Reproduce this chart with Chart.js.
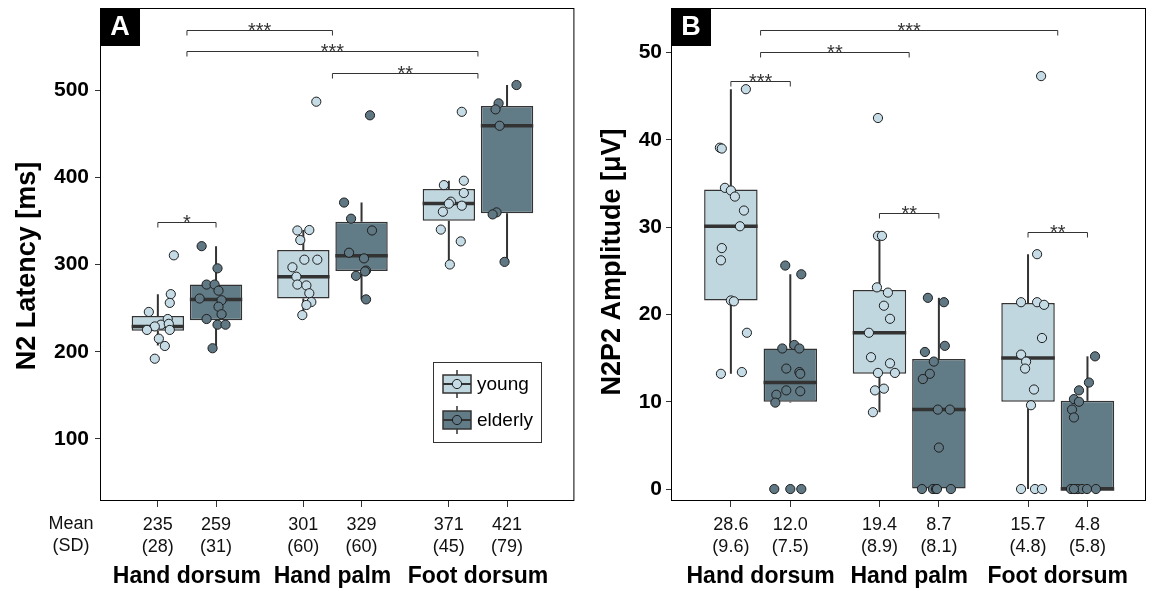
<!DOCTYPE html>
<html><head><meta charset="utf-8">
<script src="https://cdn.jsdelivr.net/npm/chart.js@4.4.1/dist/chart.umd.min.js"></script>
<style>
html,body{margin:0;padding:0;background:#fff;width:1152px;height:591px;overflow:hidden}
#a{position:absolute;left:0;top:0;width:580px;height:591px}
#b{position:absolute;left:580px;top:0;width:572px;height:591px}
</style></head><body>
<div id="a"><canvas id="ca"></canvas></div>
<div id="b"><canvas id="cb"></canvas></div>
<script>
// ---------- shared categories ----------
const groups = ['Hand dorsum', 'Hand palm', 'Foot dorsum'];
const seriesNames = ['young', 'elderly'];
// box order: HD young, HD elderly, HP young, HP elderly, FD young, FD elderly

// ---------- Panel A : N2 latency [ms] ----------
const latTicks = [100, 200, 300, 400, 500];
const latMean = [235, 259, 301, 329, 371, 421];
const latSD = [28, 31, 60, 60, 45, 79];
const latQ1 = [224, 236, 261, 292.5, 350, 358.6];
const latMedian = [229, 260, 286, 310, 370, 459];
const latQ3 = [241, 277, 316.6, 349, 386.5, 481.7];
const latWhiskerLow = [207, 204, 242, 260, 300, 303];
const latWhiskerHigh = [266, 321, 339.5, 371, 396, 505.7];
const latPoints = [
  [310.5, 266, 256, 245.6, 237.5, 231, 229, 232, 225, 225, 215, 206.6, 192],
  [321, 295.6, 277, 277, 270, 261, 259, 251.6, 243, 237.5, 231, 231, 204],
  [486.6, 339, 339.5, 328, 305.5, 305.5, 296.8, 286, 277, 276, 267, 257, 253.6, 242],
  [471, 371, 352.5, 339, 313.5, 307, 293, 292, 287, 260],
  [475, 391, 396, 382, 372, 369.7, 367.4, 360.5, 340, 326.5, 300],
  [505.7, 484.7, 477.8, 459, 359.7, 357.4, 303]
];
const latJitter = [
  [0.110, 0.089, 0.082, -0.062, 0.068, 0.021, -0.021, 0.075, -0.075, 0.082, 0.007, 0.048, -0.021],
  [-0.099, 0.010, -0.065, -0.010, 0.017, -0.113, 0.038, 0.017, 0.038, -0.065, 0.010, 0.065, -0.024],
  [0.089, -0.041, 0.041, -0.021, 0.007, 0.096, -0.075, -0.048, -0.041, 0.021, 0.041, 0.055, 0.021, -0.007],
  [0.058, -0.120, -0.072, 0.072, -0.086, 0.017, 0.031, 0.024, -0.038, 0.031],
  [0.089, -0.034, 0.103, 0.103, 0.014, 0, 0.089, -0.041, -0.055, 0.082, 0.007],
  [0.065, -0.058, -0.079, -0.051, -0.072, -0.099, -0.017]
];
const latBrackets = [
  {from: 1, to: 2, y: 568.8, label: '***'},
  {from: 1, to: 3, y: 544.7, label: '***'},
  {from: 2, to: 3, y: 519.5, label: '**'},
  {from: 0.8, to: 1.2, y: 348.7, label: '*'}
];

// ---------- Panel B : N2P2 amplitude [µV] ----------
const ampTicks = [0, 10, 20, 30, 40, 50];
const ampMean = [28.6, 12.0, 19.4, 8.7, 15.7, 4.8];
const ampSD = [9.6, 7.5, 8.9, 8.1, 4.8, 5.8];
const ampQ1 = [21.6, 10.0, 13.2, 0, 10.0, 0];
const ampMedian = [30.1, 12.2, 17.9, 9.1, 15.0, 0];
const ampQ3 = [34.3, 16.1, 22.8, 14.9, 21.3, 10.1];
const ampWhiskerLow = [13.2, 9.9, 8.8, 0, 0, 0];
const ampWhiskerHigh = [45.8, 24.6, 29.0, 21.9, 26.9, 15.2];
const ampPoints = [
  [45.8, 39.1, 39.0, 34.5, 34.2, 33.5, 31.9, 30.1, 27.6, 26.2, 21.6, 21.5, 17.9, 13.2, 13.4],
  [25.6, 24.6, 16.1, 16.5, 16.1, 13.8, 13.4, 13.2, 11.3, 11.2, 10.8, 9.9, 0, 0, 0],
  [42.5, 29.0, 29.0, 23.1, 22.5, 21.0, 19.5, 17.9, 15.1, 14.4, 13.3, 13.3, 11.3, 11.5, 8.8],
  [21.9, 21.4, 16.4, 15.7, 14.6, 13.2, 12.6, 9.1, 9.1, 4.75, 0, 0, 0, 0, 0],
  [47.3, 26.9, 21.4, 21.4, 21.1, 17.3, 15.4, 14.6, 13.8, 11.4, 9.6, 0, 0, 0],
  [15.2, 12.2, 11.3, 10.3, 10.0, 9.1, 8.2, 0, 0, 0, 0, 0, 0, 0]
];
const ampJitter = [
  [0.101, -0.074, -0.061, -0.040, 0, 0.027, 0.088, 0.061, -0.061, -0.067, 0, 0.020, 0.108, -0.067, 0.074],
  [-0.034, 0.074, -0.054, 0.027, 0.061, -0.027, 0.061, 0.067, -0.027, 0.067, -0.094, -0.101, -0.108, 0, 0.074],
  [-0.010, -0.010, 0.017, -0.017, 0.057, 0.030, 0.071, -0.071, -0.057, 0.071, -0.010, 0.104, -0.030, 0.030, -0.044],
  [-0.074, 0.034, 0.040, -0.094, -0.034, -0.061, -0.108, -0.007, 0.074, 0, -0.114, -0.040, -0.020, -0.013, 0.081],
  [0.088, 0.061, -0.047, 0.061, 0.108, 0.094, -0.047, -0.013, -0.020, 0.040, 0.020, -0.047, 0.047, 0.094],
  [0.051, 0.010, -0.057, -0.091, -0.057, -0.104, -0.091, -0.111, -0.084, -0.064, -0.037, -0.003, 0.057, -0.091]
];
const ampBrackets = [
  {from: 1, to: 3, y: 52.6, label: '***'},
  {from: 1, to: 2, y: 50.1, label: '**'},
  {from: 0.8, to: 1.2, y: 46.7, label: '***'},
  {from: 1.8, to: 2.2, y: 31.6, label: '**'},
  {from: 2.8, to: 3.2, y: 29.4, label: '**'}
];

// ---------- styles ----------
const FONT = "'Liberation Sans', Arial, Helvetica, sans-serif";
const boxFill = ['#c1d7e0', '#627c87'];
const pointFill = ['#c5dce6', '#5f7883'];
const ink = '#333333';

function buildChart(canvasId, P) {
  const dodge = 0.2;
  const pos = [];
  groups.forEach((g, i) => { pos.push(i + 1 - dodge, i + 1 + dodge); });
  const idx = s => [0, 1, 2].map(g => g * 2 + s);

  const boxDataset = s => ({
    type: 'bar', label: seriesNames[s] + ' box',
    data: idx(s).map(k => ({x: pos[k], y: [P.q1[k], P.q3[k]]})),
    backgroundColor: boxFill[s], borderColor: ink, borderWidth: 1.5,
    borderSkipped: false, grouped: false, barPercentage: 0.9, categoryPercentage: 1, order: 3
  });
  const pointDataset = s => {
    const out = [];
    idx(s).forEach(k => P.points[k].forEach((v, j) => out.push({x: pos[k] + P.jitter[k][j], y: v})));
    return {
      type: 'scatter', label: seriesNames[s], data: out,
      backgroundColor: pointFill[s], borderColor: '#1e1e1e', borderWidth: 1,
      pointRadius: 4.6, pointHoverRadius: 4.6, order: 1
    };
  };

  const boxPlugin = {
    id: 'boxextras',
    beforeDatasetsDraw(chart) {
      const ctx = chart.ctx, xs = chart.scales.x, ys = chart.scales.y;
      ctx.save();
      ctx.strokeStyle = ink; ctx.lineWidth = 2;
      pos.forEach((p, k) => {
        const x = xs.getPixelForValue(p);
        ctx.beginPath();
        ctx.moveTo(x, ys.getPixelForValue(P.wl[k])); ctx.lineTo(x, ys.getPixelForValue(P.q1[k]));
        ctx.moveTo(x, ys.getPixelForValue(P.q3[k])); ctx.lineTo(x, ys.getPixelForValue(P.wh[k]));
        ctx.stroke();
      });
      ctx.restore();
    },
    afterDatasetDraw(chart, args) {
      if (args.meta.type !== 'bar') return;
      const s = args.index; // 0 young, 1 elderly
      const ctx = chart.ctx, ys = chart.scales.y;
      ctx.save();
      ctx.strokeStyle = ink; ctx.lineWidth = 3.5;
      args.meta.data.forEach((el, j) => {
        const k = j * 2 + s;
        const y = ys.getPixelForValue(P.median[k]);
        ctx.beginPath();
        ctx.moveTo(el.x - el.width / 2, y); ctx.lineTo(el.x + el.width / 2, y);
        ctx.stroke();
      });
      ctx.restore();
    },
    afterDraw(chart) {
      const ctx = chart.ctx, xs = chart.scales.x, ys = chart.scales.y, a = chart.chartArea;
      ctx.save();
      // frame
      ctx.strokeStyle = '#000'; ctx.lineWidth = 1;
      ctx.strokeRect(a.left + 0.5, a.top + 0.5, a.right - a.left - 1, a.bottom - a.top - 1);
      // panel letter
      ctx.fillStyle = '#000';
      ctx.fillRect(a.left, a.top, 40, 38);
      ctx.fillStyle = '#fff'; ctx.font = 'bold 27px ' + FONT;
      ctx.textAlign = 'center'; ctx.textBaseline = 'middle';
      ctx.fillText(P.letter, a.left + 20, a.top + 20);
      // significance brackets
      ctx.strokeStyle = ink; ctx.lineWidth = 1; ctx.fillStyle = ink;
      ctx.font = '20px ' + FONT; ctx.textBaseline = 'alphabetic';
      P.brackets.forEach(b => {
        const x1 = xs.getPixelForValue(b.from), x2 = xs.getPixelForValue(b.to);
        const y = Math.round(ys.getPixelForValue(b.y)) + 0.5;
        ctx.beginPath();
        ctx.moveTo(x1, y + 5); ctx.lineTo(x1, y); ctx.lineTo(x2, y); ctx.lineTo(x2, y + 5);
        ctx.stroke();
        ctx.fillText(b.label, (x1 + x2) / 2, y + 6);
      });
      // group labels
      ctx.fillStyle = '#000'; ctx.font = 'bold 23px ' + FONT;
      ctx.textBaseline = 'middle'; ctx.textAlign = 'center';
      groups.forEach((g, i) => ctx.fillText(g, xs.getPixelForValue(i + 1), 577));
      // Mean (SD) row label
      if (P.meanLabel) {
        ctx.font = '18px ' + FONT; ctx.fillStyle = '#111';
        ctx.fillText('Mean', 71, 524);
        ctx.fillText('(SD)', 71, 546);
      }
      // y title
      ctx.save();
      ctx.translate(P.titleX, P.titleY); ctx.rotate(-Math.PI / 2);
      ctx.font = 'bold 27px ' + FONT; ctx.fillStyle = '#000';
      ctx.fillText(P.yTitle, 0, 0);
      ctx.restore();
      // legend
      if (P.legend) {
        const L = P.legend;
        ctx.fillStyle = '#fff'; ctx.fillRect(L.x, L.y, L.w, L.h);
        ctx.strokeStyle = ink; ctx.lineWidth = 1;
        ctx.strokeRect(L.x + 0.5, L.y + 0.5, L.w, L.h);
        seriesNames.forEach((name, s) => {
          const yc = L.y + 22 + s * 36, xc = L.x + 24;
          ctx.strokeStyle = ink; ctx.lineWidth = 1.5;
          ctx.beginPath();
          ctx.moveTo(xc, yc - 14); ctx.lineTo(xc, yc - 9);
          ctx.moveTo(xc, yc + 9); ctx.lineTo(xc, yc + 14);
          ctx.stroke();
          ctx.fillStyle = boxFill[s];
          ctx.fillRect(xc - 14, yc - 9, 28, 18);
          ctx.strokeRect(xc - 14, yc - 9, 28, 18);
          ctx.lineWidth = 2;
          ctx.beginPath(); ctx.moveTo(xc - 14, yc); ctx.lineTo(xc + 14, yc); ctx.stroke();
          ctx.beginPath(); ctx.arc(xc, yc, 4.6, 0, Math.PI * 2);
          ctx.fillStyle = pointFill[s]; ctx.fill();
          ctx.lineWidth = 1; ctx.strokeStyle = '#1e1e1e'; ctx.stroke();
          ctx.fillStyle = '#000'; ctx.font = '19px ' + FONT;
          ctx.textAlign = 'left'; ctx.textBaseline = 'middle';
          ctx.fillText(name, xc + 20, yc + 1);
        });
      }
      ctx.restore();
    }
  };

  const noPad = s => { s.paddingTop = 0; s.paddingBottom = 0; s.paddingLeft = 0; s.paddingRight = 0; };

  return new Chart(document.getElementById(canvasId), {
    type: 'bar',
    data: {datasets: [boxDataset(0), boxDataset(1), pointDataset(0), pointDataset(1)]},
    plugins: [boxPlugin],
    options: {
      responsive: true, maintainAspectRatio: false, animation: false,
      layout: {padding: {top: 8, right: P.padRight, left: 0, bottom: 0}},
      plugins: {legend: {display: false}, tooltip: {enabled: false}},
      scales: {
        x: {
          type: 'linear', min: P.xMin, max: P.xMax, offset: false,
          afterBuildTicks: s => { s.ticks = pos.map(v => ({value: v})); },
          afterFit: s => { s.height = 90; noPad(s); },
          grid: {display: true, drawOnChartArea: false, drawTicks: true, tickLength: 6, color: ink, offset: false},
          border: {display: false},
          ticks: {
            autoSkip: false, maxRotation: 0, padding: 7, color: '#111',
            font: {family: FONT, size: 18, lineHeight: 1.22},
            callback: (v, i) => [P.fmt(P.mean[i]), '(' + P.fmt(P.sd[i]) + ')']
          }
        },
        y: {
          type: 'linear', min: P.yMin, max: P.yMax,
          afterBuildTicks: s => { s.ticks = P.yTicks.map(v => ({value: v})); },
          afterFit: s => { s.width = P.yWidth; noPad(s); },
          grid: {display: true, drawOnChartArea: false, drawTicks: true, tickLength: 5, color: ink},
          border: {display: false},
          ticks: {padding: P.yPad, color: '#000', font: {family: FONT, size: 21, weight: 'bold'}}
        }
      }
    }
  });
}

buildChart('ca', {
  letter: 'A', yTitle: 'N2 Latency [ms]', titleX: 28, titleY: 266,
  yMin: 28.9, yMax: 594, yTicks: latTicks, xMin: 0.4024, xMax: 3.663,
  yWidth: 100, yPad: 6, padRight: 5, meanLabel: true,
  mean: latMean, sd: latSD, fmt: v => String(v),
  q1: latQ1, median: latMedian, q3: latQ3, wl: latWhiskerLow, wh: latWhiskerHigh,
  points: latPoints, jitter: latJitter, brackets: latBrackets,
  legend: {x: 433, y: 362, w: 108, h: 80}
});
buildChart('cb', {
  letter: 'B', yTitle: 'N2P2 Amplitude [\u03bcV]', titleX: 33, titleY: 262,
  yMin: -1.37, yMax: 55.1, yTicks: ampTicks, xMin: 0.397, xMax: 3.594,
  yWidth: 91, yPad: 4, padRight: 6, meanLabel: false,
  mean: ampMean, sd: ampSD, fmt: v => v.toFixed(1),
  q1: ampQ1, median: ampMedian, q3: ampQ3, wl: ampWhiskerLow, wh: ampWhiskerHigh,
  points: ampPoints, jitter: ampJitter, brackets: ampBrackets,
  legend: null
});
</script>
</body></html>
